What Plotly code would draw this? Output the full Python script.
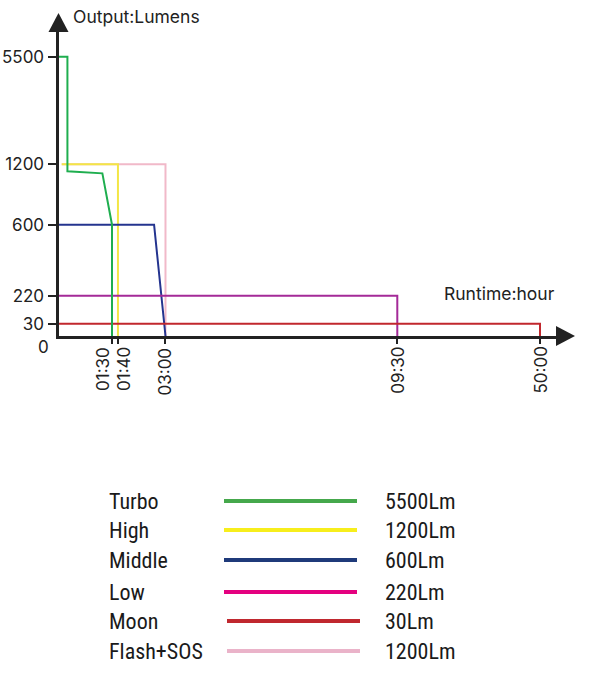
import numpy as np
import plotly.graph_objects as go

# runtime (hours) / output (lumens)
turbo_t = [0, 0.25, 0.25, 1.23, 1.5, 1.5]
turbo_lm = [5500, 5500, 1130, 1110, 600, 0]
high_t = [0.09, 1.667, 1.667]
high_lm = [1200, 1200, 0]
middle_t = [0, 2.68, 3.0]
middle_lm = [600, 600, 0]
low_t = [0, 9.5, 9.5]
low_lm = [220, 220, 0]
moon_t = [0, 50, 50]
moon_lm = [30, 30, 0]
flash_t = [0.09, 3.0, 3.0]
flash_lm = [1200, 1200, 0]

mode_names = ["Turbo", "High", "Middle", "Low", "Moon", "Flash+SOS"]
mode_values = ["5500Lm", "1200Lm", "600Lm", "220Lm", "30Lm", "1200Lm"]

x_tick_h = [1.5, 1.667, 3.0, 9.5, 50]
x_tick_text = ["01:30", "01:40", "03:00", "09:30", "50:00"]
y_tick_lm = [30, 220, 600, 1200, 5500]
y_tick_text = ["30", "220", "600", "1200", "5500"]

# the drawing uses an uneven scale on both axes
X_SCALE_H = [0, 9.5, 50]
X_SCALE_U = [0, 338.8, 481.5]
Y_SCALE_LM = [0, 30, 220, 600, 1200, 5500]
Y_SCALE_U = [0, 12.3, 40.3, 111.3, 171.7, 279.3]


def sx(t):
    return np.interp(t, X_SCALE_H, X_SCALE_U)


def sy(lm):
    return np.interp(lm, Y_SCALE_LM, Y_SCALE_U)


line_colors = ["#1fae4f", "#f3e646", "#24348f", "#a42a98", "#c1272d", "#f1b9c9"]
legend_colors = ["#45a84c", "#f7ee1c", "#1f3a7a", "#e4007f", "#c0282f", "#eab3c9"]

W, H = 590, 678
ox, oy = 58.5, 336  # origin in pixels

fig = go.Figure()

series = [
    (flash_t, flash_lm, 5),
    (high_t, high_lm, 1),
    (middle_t, middle_lm, 2),
    (low_t, low_lm, 3),
    (moon_t, moon_lm, 4),
    (turbo_t, turbo_lm, 0),
]
for t, lm, i in series:
    fig.add_trace(
        go.Scatter(
            x=sx(t),
            y=sy(lm),
            mode="lines",
            line=dict(color=line_colors[i], width=2),
            name=mode_names[i],
            showlegend=False,
        )
    )


def px(x):
    return x / W


def py(y):
    return 1 - y / H


fig.update_layout(
    width=W,
    height=H,
    margin=dict(l=0, r=0, t=0, b=0),
    paper_bgcolor="white",
    plot_bgcolor="white",
    font=dict(family="Inter, Roboto, sans-serif", color="#222", size=16),
    xaxis=dict(
        domain=[px(ox), px(560)],
        range=[0, 560 - ox],
        showgrid=False,
        zeroline=False,
        showline=True,
        linewidth=3,
        linecolor="#222",
        ticks="outside",
        ticklen=5,
        tickwidth=2,
        tickcolor="#222",
        tickvals=sx(x_tick_h),
        ticktext=[""] * len(x_tick_h),
    ),
    yaxis=dict(
        domain=[py(oy), py(30)],
        range=[0, oy - 30],
        showgrid=False,
        zeroline=False,
        showline=True,
        linewidth=3,
        linecolor="#222",
        ticks="outside",
        ticklen=8,
        tickwidth=2,
        tickcolor="#222",
        tickvals=sy(y_tick_lm),
        ticktext=y_tick_text,
        tickfont=dict(size=17),
    ),
)

# arrow heads
shapes = [
    dict(
        type="path",
        xref="paper",
        yref="paper",
        path=f"M {px(ox - 10)},{py(32)} L {px(ox + 10)},{py(32)} L {px(ox)},{py(13)} Z",
        fillcolor="#222",
        line=dict(width=0),
    ),
    dict(
        type="path",
        xref="paper",
        yref="paper",
        path=f"M {px(556)},{py(oy - 10)} L {px(556)},{py(oy + 10)} L {px(575)},{py(oy)} Z",
        fillcolor="#222",
        line=dict(width=0),
    ),
]

annotations = [
    dict(text="Output:Lumens", x=px(71), y=py(17), xanchor="left", yanchor="middle",
         font=dict(size=17.5), xref="paper", yref="paper"),
    dict(text="Runtime:hour", x=px(442), y=py(293), xanchor="left", yanchor="middle",
         font=dict(size=17.5), xref="paper", yref="paper"),
    dict(text="0", x=px(51), y=py(347), xanchor="right", yanchor="middle",
         font=dict(size=17), xref="paper", yref="paper"),
]

# rotated time labels; the two close ones are pushed apart
label_shift = [-9, 6, 0, 0, 0]
for i, t in enumerate(x_tick_h):
    annotations.append(
        dict(text=x_tick_text[i], x=sx(t), y=0, xref="x", yref="y",
             xanchor="center", yanchor="top", textangle=-90,
             xshift=label_shift[i], yshift=-9, font=dict(size=17))
    )

# legend table below the chart
row_y = [501, 530, 560, 592, 621, 651]
for i, name in enumerate(mode_names):
    y = row_y[i]
    x0 = 224 if i < 4 else 227
    shapes.append(
        dict(
            type="line",
            xref="paper",
            yref="paper",
            x0=px(x0),
            x1=px(x0 + 133),
            y0=py(y),
            y1=py(y),
            line=dict(color=legend_colors[i], width=4),
        )
    )
    annotations.append(
        dict(text=name, x=px(107), y=py(y), xanchor="left", yanchor="middle",
             xref="paper", yref="paper",
             font=dict(family="Roboto Condensed, Roboto", size=22, color="#1a1a1a"))
    )
    annotations.append(
        dict(text=mode_values[i], x=px(383), y=py(y), xanchor="left", yanchor="middle",
             xref="paper", yref="paper",
             font=dict(family="Roboto Condensed, Roboto", size=22, color="#1a1a1a"))
    )

for a in annotations:
    a.update(showarrow=False)

fig.update_layout(shapes=shapes, annotations=annotations)

fig.write_html(
    "out.html",
    config={"displayModeBar": False},
    post_script="document.body.style.margin='0';",
)
